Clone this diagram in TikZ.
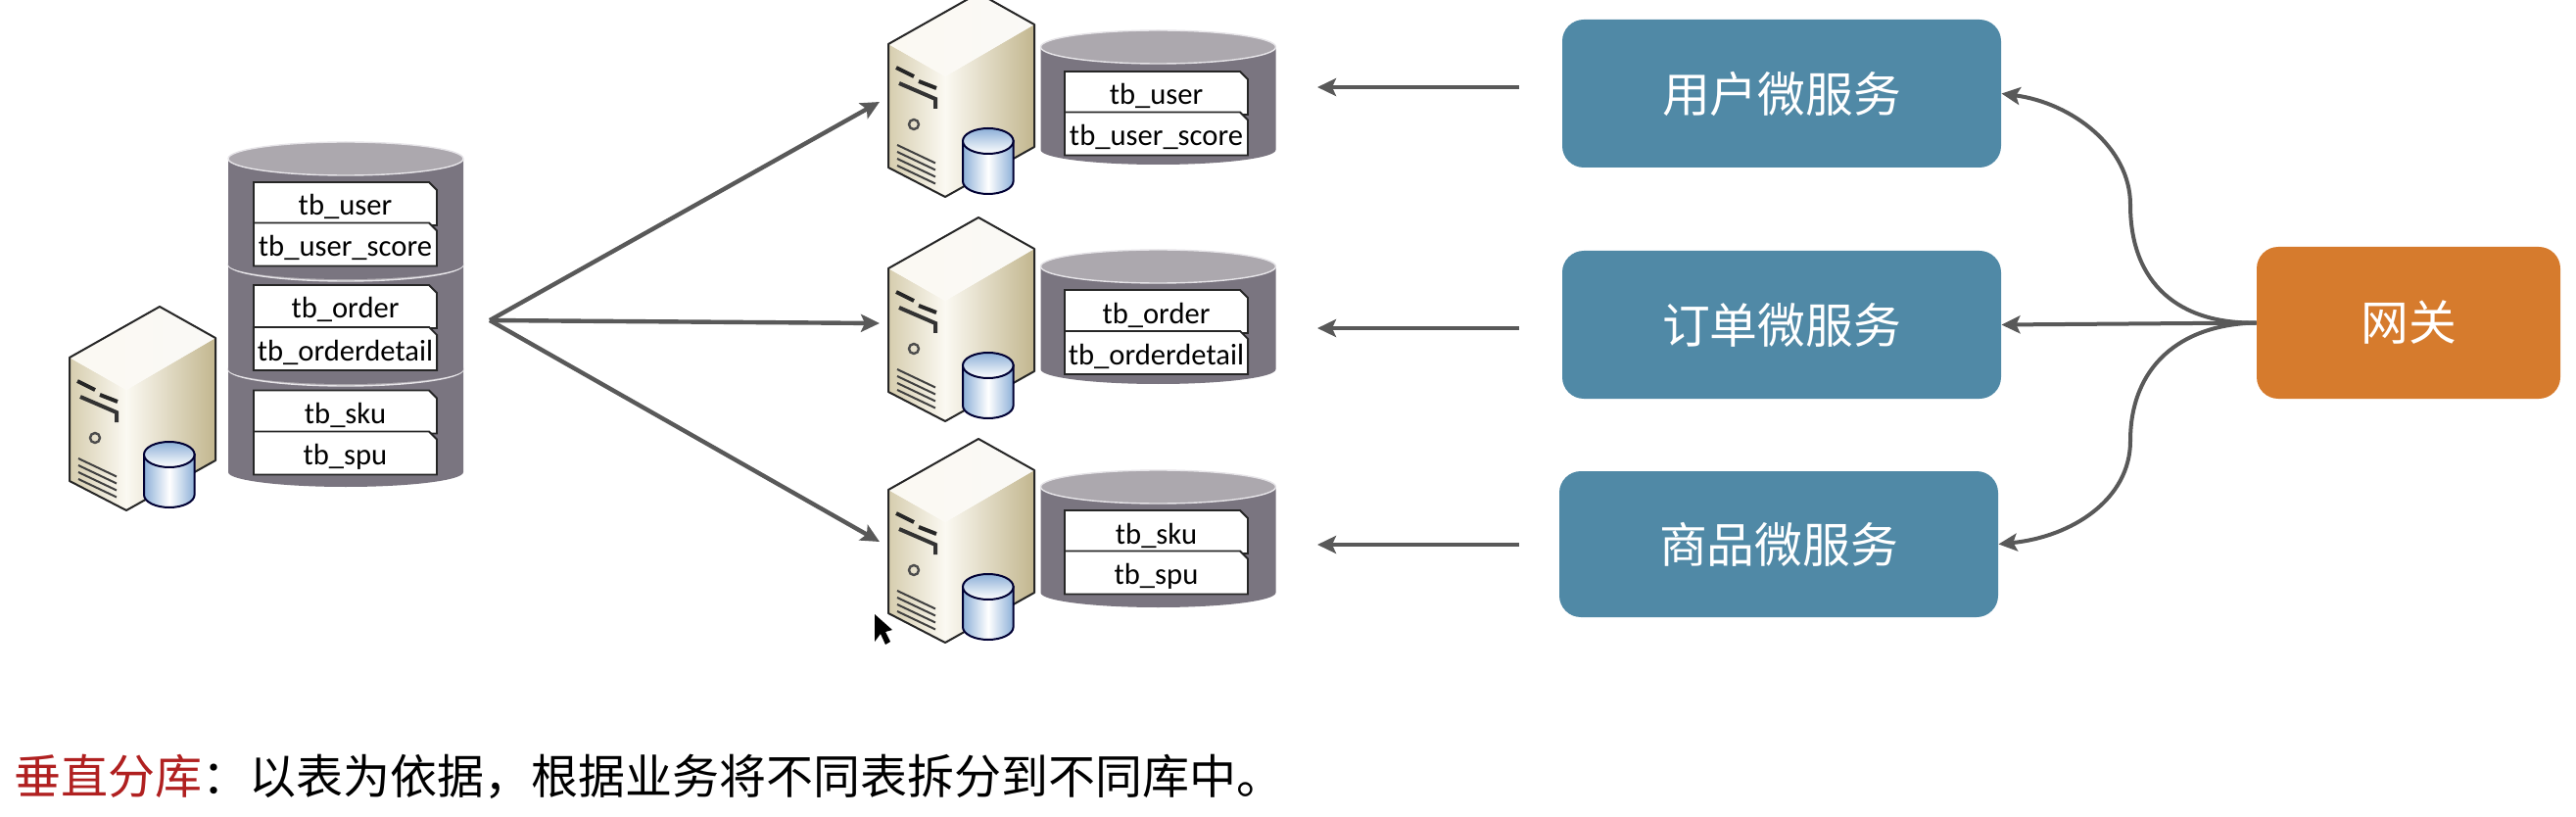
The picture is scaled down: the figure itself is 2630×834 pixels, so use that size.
\documentclass[tikz,border=0pt]{standalone}
\usepackage{fontspec}
\setmainfont{Carlito}
\newfontfamily\cjk{Noto Sans CJK SC}
\usetikzlibrary{arrows.meta,shapes.misc}
\definecolor{linegray}{HTML}{595959}
\definecolor{dbbody}{HTML}{7A7580}
\definecolor{dbtop}{HTML}{ACA8AE}
\definecolor{dbrim}{HTML}{E6E4E8}
\definecolor{svcblue}{HTML}{5089A6}
\definecolor{gateorange}{HTML}{D67B2D}
\definecolor{redtxt}{HTML}{B02020}
\definecolor{srvdark}{HTML}{C2B68E}
\definecolor{srvmid}{HTML}{D6CDAE}
\definecolor{srvlight}{HTML}{FBF9F2}
\definecolor{minidark}{HTML}{8DB0D8}
\tikzset{
  link/.style={->,draw=linegray,line width=2.2pt},
  curvelink/.style={->,draw=linegray,line width=2pt},
  svcbox/.style={fill=svcblue,rounded corners=11pt,minimum width=224pt,minimum height=75.5pt,
    text=white,font=\cjk\fontsize{24.4}{26}\selectfont,inner sep=0pt},
  dbtable/.style={chamfered rectangle,chamfered rectangle corners=north east,
    chamfered rectangle xsep=2pt,chamfered rectangle ysep=2pt,
    fill=white,draw=black!85,line width=0.9pt,minimum width=93.5pt,minimum height=21pt,inner sep=0pt,
    text height=15pt,text depth=3pt,font=\fontsize{15.3}{17}\selectfont},
  % one disk of a database cylinder, the argument is the height of its side
  pics/dbdisk/.style={code={
    \fill[dbbody] (-120,0) -- (-120,#1) arc[start angle=180,end angle=360,x radius=60pt,y radius=7.5pt] -- (120,0) -- cycle;
    \fill[dbtop,draw=dbrim,line width=0.7pt] (0,0) ellipse[x radius=60pt,y radius=8.5pt];
  }},
  % server box with the small cylinder, origin is the top corner
  pics/server/.style={code={
    \shade[left color=srvlight,right color=srvdark] (-34,85) -- (57,32) -- (57,157) -- (-34,208) -- cycle;
    \shade[left color=srvmid,right color=srvlight] (-92,52) -- (-34,85) -- (-34,208) -- (-92,178) -- cycle;
    \shade[left color=srvlight,right color=white!92!srvdark] (0,0) -- (57,32) -- (-34,85) -- (-92,52) -- cycle;
    \draw[black!85,line width=1pt,line join=round] (0,0) -- (57,32) -- (57,157) -- (-34,208) -- (-92,178) -- (-92,52) -- cycle;
    % vents and button
    \draw[black!85,line width=2pt] (-84,76) -- (-66,85) (-61,90) -- (-43,97);
    \draw[black!80,line width=2pt] (-81,92) -- (-44,108) -- (-44,118);
    \draw[black!70,line width=1.2pt] (-66,134) circle[radius=5];
    \foreach \d in {0,7,14,21}
      \draw[black!75,line width=1pt] (-83,155+\d) -- (-44,173.5+\d);
    % small cylinder
    \shade[left color=minidark,right color=minidark,middle color=white,draw=black!80!blue,line width=1pt]
      (-16,151) -- (-16,192) arc[start angle=180,end angle=360,x radius=12.9pt,y radius=6.5pt] -- (35.6,151) -- cycle;
    \shade[top color=minidark,bottom color=white,draw=black!80!blue,line width=1pt]
      (9.8,151) ellipse[x radius=12.9pt,y radius=6.5pt];
  }}
}
\begin{document}
\begin{tikzpicture}[x=0.5pt,y=-0.5pt,>={Stealth[length=9.5pt,width=9pt,inset=2pt]}]
\useasboundingbox (0,0) rectangle (2630,834);
% Big database on the left, lowest disk first
\pic at (353,377) {dbdisk=105};
\pic at (353,270) {dbdisk=107};
\pic at (353,162) {dbdisk=108};
% Split databases
\pic at (1182.5,48) {dbdisk=105};
\pic at (1182.5,272) {dbdisk=105};
\pic at (1182.5,497) {dbdisk=108};
% Table tags
\foreach \nm/\x/\y/\lab in {allUser/352.5/208/tb\_user,allScore/352.5/249.5/tb\_user\_score,
    allOrder/352.5/313/tb\_order,allDetail/352.5/356/tb\_orderdetail,
    allSku/352.5/420.5/tb\_sku,allSpu/352.5/462.5/tb\_spu,
    oneUser/1180.5/95/tb\_user,oneScore/1180.5/136.5/tb\_user\_score,
    oneOrder/1180.5/318/tb\_order,oneDetail/1180.5/360/tb\_orderdetail,
    oneSku/1180.5/543/tb\_sku,oneSpu/1180.5/584.5/tb\_spu} {
  \node[dbtable] (\nm) at (\x,\y) {\lab};
}
% Servers
\pic at (163,313) {server};
\foreach \y in {-7,222,448} {
  \pic at (999,\y) {server};
}
% Services and gateway
\node[svcbox] (svcUser) at (1819,95.5) {用户微服务};
\node[svcbox] (svcOrder) at (1819,331.5) {订单微服务};
\node[svcbox,minimum height=74.5pt] (svcGoods) at (1816,555.5) {商品微服务};
\node[svcbox,fill=gateorange,minimum width=155pt,minimum height=77.5pt] (gateway) at (2459,329.5) {网关};
% Fan out from the big database
\coordinate (fan) at (500,327);
\coordinate (srvUser) at (898,104);
\coordinate (srvOrder) at (898,330);
\coordinate (srvGoods) at (898,553);
\foreach \nm in {srvUser,srvOrder,srvGoods} {
  \draw[link] (fan) -- (\nm);
}
% Service to database arrows
\foreach \nm/\y in {User/89,Order/335,Goods/556} {
  \coordinate (from\nm) at (1551,\y);
  \coordinate (to\nm) at (1345,\y);
  \draw[link] (from\nm) -- (to\nm);
}
% Gateway arrows
\draw[curvelink] (gateway.west) -- (svcOrder.east);
\draw[curvelink] (gateway.west) .. controls (2225,331) and (2175,290) .. (2175,209) .. controls (2175,150) and (2115,105) .. (svcUser.east);
\draw[curvelink] (gateway.west) .. controls (2225,331) and (2175,375) .. (2175,450) .. controls (2175,510) and (2115,548) .. (svcGoods.east);
% Mouse pointer
\fill[black] (893,627) -- (893,655) -- (899,647) -- (904,658) -- (909,655) -- (904,645) -- (911,643) -- cycle;
% Caption
\node[anchor=west,inner sep=0pt,font=\cjk\fontsize{24}{28}\selectfont] (caption) at (14,793)
  {\textcolor{redtxt}{垂直分库}：以表为依据，根据业务将不同表拆分到不同库中。};
\end{tikzpicture}
\end{document}
